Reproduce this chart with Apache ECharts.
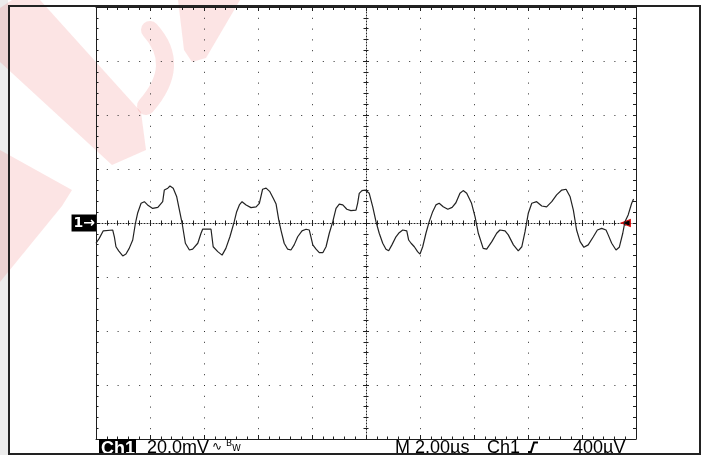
<!DOCTYPE html>
<html>
<head>
<meta charset="utf-8">
<title>Ch1 scope capture</title>
<script src="https://cdn.jsdelivr.net/npm/echarts/dist/echarts.min.js"></script>
<style>
  html, body { margin: 0; padding: 0; background: #fff; }
  #main { width: 702px; height: 455px; }
</style>
</head>
<body>
<div id="main"></div>
<script>
// time in microseconds (2.00 µs / div)
var timeUs = [
  -10.00, -9.88, -9.73, -9.38, -9.34, -9.32, -9.26, -9.16, -9.01, -8.89,
  -8.77, -8.64, -8.54, -8.46, -8.33, -8.21, -8.09, -7.90, -7.71, -7.53,
  -7.47, -7.34, -7.26, -7.14, -7.01, -6.91, -6.81, -6.69, -6.54, -6.42,
  -6.23, -6.11, -6.05, -5.74, -5.70, -5.66, -5.49, -5.33, -5.19, -5.04,
  -4.88, -4.79, -4.69, -4.59, -4.44, -4.26, -4.07, -3.95, -3.83, -3.70,
  -3.56, -3.43, -3.33, -3.23, -3.15, -3.03, -2.90, -2.78, -2.66, -2.53,
  -2.37, -2.22, -2.10, -2.04, -1.97, -1.85, -1.73, -1.60, -1.48, -1.36,
  -1.23, -1.11, -0.99, -0.86, -0.71, -0.56, -0.37, -0.31, -0.25, -0.15,
  -0.03, 0.12, 0.25, 0.37, 0.49, 0.62, 0.74, 0.84, 0.96, 1.11,
  1.23, 1.36, 1.51, 1.58, 1.67, 1.79, 1.91, 2.00, 2.10, 2.22,
  2.34, 2.47, 2.59, 2.71, 2.86, 3.03, 3.19, 3.33, 3.48, 3.60,
  3.73, 3.91, 4.04, 4.16, 4.34, 4.47, 4.66, 4.84, 4.96, 5.15,
  5.27, 5.46, 5.64, 5.77, 5.89, 6.01, 6.14, 6.32, 6.51, 6.69,
  6.88, 7.06, 7.25, 7.41, 7.56, 7.68, 7.80, 7.93, 8.07, 8.23,
  8.42, 8.57, 8.73, 8.89, 8.97, 9.10, 9.26, 9.38, 9.51, 9.59,
  9.71, 9.84, 9.91
];
// channel 1 in millivolts (20.0 mV / div)
var voltageMv = [
  -7.5, -5.7, -2.9, -2.6, -1.9, -5.1, -8.8, -10.3, -12.2, -11.5,
  -9.4, -6.3, -0.1, 3.6, 7.3, 7.9, 6.7, 5.4, 5.8, 7.9,
  12.2, 12.9, 13.7, 12.9, 9.7, 4.8, -0.1, -7.5, -10.0, -9.7,
  -7.5, -3.8, -2.3, -2.3, -2.0, -8.8, -10.6, -11.9, -9.4, -5.1,
  0.5, 4.2, 6.7, 7.9, 6.7, 5.7, 6.0, 7.3, 12.5, 12.9,
  11.6, 9.1, 7.0, 1.1, -2.6, -7.5, -9.7, -10.0, -8.1, -5.1,
  -2.9, -2.3, -2.6, -5.1, -8.1, -9.7, -11.0, -11.0, -8.8, -3.8,
  0.5, 5.4, 7.0, 6.7, 5.1, 4.6, 4.8, 7.3, 11.0, 12.0,
  12.2, 11.0, 6.0, 0.5, -3.8, -7.5, -9.7, -10.3, -8.1, -5.1,
  -3.6, -2.6, -2.9, -6.3, -7.5, -8.8, -10.6, -11.5, -8.8, -3.8,
  0.5, 4.2, 6.7, 7.3, 6.0, 5.1, 5.8, 7.5, 11.0, 12.0,
  11.0, 7.3, 2.3, -3.8, -9.4, -9.7, -6.9, -3.8, -2.6, -2.9,
  -4.4, -8.1, -10.3, -8.8, -3.2, 3.6, 7.3, 7.9, 6.3, 6.0,
  7.9, 10.4, 12.2, 12.5, 9.7, 4.8, -2.6, -6.9, -9.0, -8.1,
  -5.1, -2.6, -2.0, -2.6, -4.4, -7.5, -10.0, -9.0, -3.8, 0.5,
  3.0, 7.3, 8.9
];
// screen range: 10 div x 2 µs, 8 div x 20 mV
var timeRange = [-10, 10, 2];
var voltRange = [-80, 80, 20];
// trigger point marker on the right edge
var triggerMark = [9.62, 0];
// readout texts under the graticule
var readoutLeft = ['Ch1', '20.0mV'];
var readoutRight = ['M 2.00µs', 'Ch1', '400µV'];

var chart = echarts.init(document.getElementById("main"));

var points = [];
for (var i = 0; i < timeUs.length; i++) {
  points.push([timeUs[i], voltageMv[i]]);
}

var ink = "#1e1e1e";
var dotStyle = { color: "#2a2a2a", width: 1, type: [1, 9.8] };
var denseDots = { color: "#222", width: 1, type: [1, 2] };
var hidden = { color: "#000", width: 1, opacity: 0 };

// axis factory, every axis shares the same scale
function xAx(extra) {
  return Object.assign({
    type: "value", min: timeRange[0], max: timeRange[1], interval: timeRange[2],
    axisLabel: { show: false }, splitLine: { show: false }
  }, extra);
}
function yAx(extra) {
  return Object.assign({
    type: "value", min: voltRange[0], max: voltRange[1], interval: voltRange[2],
    axisLabel: { show: false }, splitLine: { show: false }
  }, extra);
}
function ticks(inside, major, minor) {
  return {
    axisTick: { show: true, inside: inside, length: major, lineStyle: { color: ink, width: 1 } },
    minorTick: { show: true, splitNumber: 5, length: minor, lineStyle: { color: ink, width: 1 } }
  };
}

var wm = "rgba(232, 50, 50, 0.13)";

var option = {
  animation: false,
  backgroundColor: "#fff",
  grid: { left: 96, right: 66, top: 7, bottom: 16, outerBoundsMode: "none" },
  xAxis: [
    // bottom border + vertical grid dots
    xAx(Object.assign({
      position: "bottom",
      axisLine: { onZero: false, lineStyle: { color: ink, width: 1 } },
      splitLine: { show: true, lineStyle: dotStyle }
    }, ticks(true, 4, 2.5))),
    // top border
    xAx(Object.assign({
      position: "top",
      axisLine: { onZero: false, lineStyle: { color: ink, width: 1 } }
    }, ticks(true, 4, 3))),
    // centre horizontal line, ticks up
    xAx(Object.assign({
      position: "bottom",
      axisLine: { onZero: true, onZeroAxisIndex: 0, lineStyle: denseDots }
    }, ticks(true, 3, 2.5))),
    // centre horizontal line, ticks down
    xAx(Object.assign({
      position: "bottom",
      axisLine: { onZero: true, onZeroAxisIndex: 0, lineStyle: hidden }
    }, ticks(false, 3, 2.5)))
  ],
  yAxis: [
    // left border + horizontal grid dots + "1→" ground marker
    yAx(Object.assign({
      position: "left",
      axisLine: { onZero: false, lineStyle: { color: ink, width: 1 } },
      splitLine: { show: true, lineStyle: dotStyle },
      axisLabel: {
        show: true, margin: 0,
        formatter: function (v) { return v === 0 ? "{m|1→}" : ""; },
        rich: {
          m: {
            color: "#fff", backgroundColor: "#000", fontSize: 14, fontWeight: "bold",
            fontFamily: "DejaVu Sans", padding: [2, 1, 1, 2], lineHeight: 14
          }
        }
      }
    }, ticks(true, 3, 2.5))),
    // right border
    yAx(Object.assign({
      position: "right",
      axisLine: { onZero: false, lineStyle: { color: ink, width: 1 } }
    }, ticks(true, 3, 3))),
    // centre vertical line, ticks right
    yAx(Object.assign({
      position: "left",
      axisLine: { onZero: true, onZeroAxisIndex: 0, lineStyle: denseDots }
    }, ticks(true, 3, 2.5))),
    // centre vertical line, ticks left
    yAx(Object.assign({
      position: "left",
      axisLine: { onZero: true, onZeroAxisIndex: 0, lineStyle: hidden }
    }, ticks(false, 3, 2.5)))
  ],
  series: [
    {
      name: "Ch1",
      type: "line",
      xAxisIndex: 0,
      yAxisIndex: 0,
      data: points,
      showSymbol: false,
      symbol: "none",
      silent: true,
      z: 5,
      lineStyle: { color: "#222", width: 1.2 },
      markPoint: {
        silent: true,
        symbol: "triangle",
        symbolSize: [7, 9],
        symbolRotate: 90,
        label: { show: false },
        itemStyle: { color: "#000", borderColor: "#e01010", borderWidth: 1.2 },
        data: [{ coord: triggerMark }]
      }
    }
  ],
  graphic: [
    // watermark + grey strip behind everything
    { type: "rect", z: -30, silent: true, shape: { x: 0, y: 0, width: 8, height: 455 }, style: { fill: "#ececec" } },
    { type: "polygon", z: -20, silent: true,
      shape: { points: [[0, 8], [0, 62], [112, 165], [146, 150], [141, 112], [40, 0], [12, 0]] },
      style: { fill: wm } },
    { type: "polygon", z: -20, silent: true,
      shape: { points: [[0, 150], [72, 190], [62, 206], [0, 282]] },
      style: { fill: wm } },
    { type: "polygon", z: -20, silent: true,
      shape: { points: [[178, 0], [240, 0], [206, 58], [192, 62], [184, 50]] },
      style: { fill: wm } },
    { type: "bezierCurve", z: -20, silent: true,
      shape: { x1: 150, y1: 30, cpx1: 182, cpy1: 65, x2: 146, y2: 106 },
      style: { stroke: wm, fill: null, lineWidth: 18, lineCap: "round" } },

    // outer frame
    { type: "rect", z: 100, silent: true, shape: { x: 9, y: 6, width: 691, height: 448 },
      style: { fill: null, stroke: "#222", lineWidth: 2 } },

    // readout line
    { type: "text", z: 50, x: 99, y: 439,
      style: { text: readoutLeft[0], font: 'bold 18px "Liberation Sans"', fill: "#fff",
        backgroundColor: "#000", padding: [1, 1, 0, 2] } },
    { type: "text", z: 50, x: 147, y: 439,
      style: { text: readoutLeft[1], font: '18px "Liberation Sans"', fill: "#000" } },
    { type: "text", z: 50, x: 212, y: 441,
      style: { text: "∿", font: '12px "DejaVu Sans"', fill: "#000" } },
    { type: "text", z: 50, x: 226, y: 439,
      style: { text: "B", font: '9px "DejaVu Sans"', fill: "#000" } },
    { type: "text", z: 50, x: 232, y: 444,
      style: { text: "W", font: '9px "DejaVu Sans"', fill: "#000" } },
    { type: "text", z: 50, x: 395, y: 439,
      style: { text: readoutRight[0], font: '18px "Liberation Sans"', fill: "#000" } },
    { type: "text", z: 50, x: 487, y: 439,
      style: { text: readoutRight[1], font: '18px "Liberation Sans"', fill: "#000" } },
    { type: "polyline", z: 50, silent: true,
      shape: { points: [[528, 452], [531, 452], [534, 442.5], [538, 442.5]] },
      style: { stroke: "#000", lineWidth: 2, fill: null } },
    { type: "text", z: 50, x: 573, y: 439,
      style: { text: readoutRight[2], font: '18px "Liberation Sans"', fill: "#000" } }
  ]
};

chart.setOption(option);
</script>
</body>
</html>
